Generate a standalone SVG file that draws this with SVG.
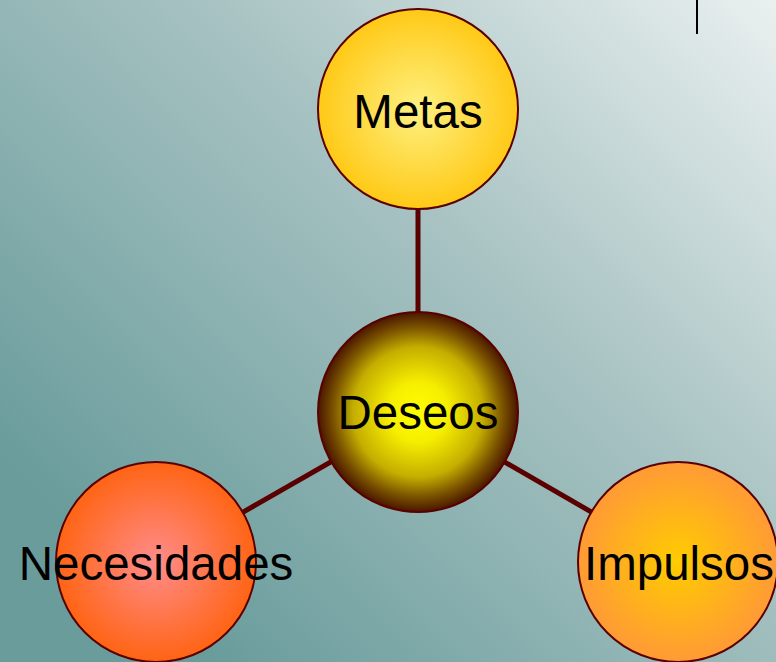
<svg xmlns="http://www.w3.org/2000/svg" width="776" height="662" viewBox="0 0 776 662">
  <defs>
    <linearGradient id="bg" gradientUnits="userSpaceOnUse" x1="776" y1="0" x2="170" y2="620">
      <stop offset="0" stop-color="#eaf0f0"/>
      <stop offset="0.45" stop-color="#a9c3c3"/>
      <stop offset="1" stop-color="#6a9c9c"/>
    </linearGradient>
    <radialGradient id="gMetas" cx="0.5" cy="0.5" r="0.5">
      <stop offset="0" stop-color="#fdf182"/>
      <stop offset="1" stop-color="#ffc916"/>
    </radialGradient>
    <radialGradient id="gDeseos" cx="0.5" cy="0.5" r="0.5">
      <stop offset="0" stop-color="#ffff00"/>
      <stop offset="0.3" stop-color="#f6ee00"/>
      <stop offset="0.65" stop-color="#c4ae00"/>
      <stop offset="0.85" stop-color="#7a5200"/>
      <stop offset="1" stop-color="#4a1600"/>
    </radialGradient>
    <radialGradient id="gNec" cx="0.5" cy="0.5" r="0.5">
      <stop offset="0" stop-color="#ff8c8c"/>
      <stop offset="1" stop-color="#ff6414"/>
    </radialGradient>
    <radialGradient id="gImp" cx="0.5" cy="0.5" r="0.5">
      <stop offset="0" stop-color="#ffcc00"/>
      <stop offset="1" stop-color="#ff9a36"/>
    </radialGradient>
  </defs>
  <style>
    .node { stroke: #5a0000; stroke-width: 2; }
    .conn { stroke: #5a0000; stroke-width: 5; }
    .lbl { font-family: "Liberation Sans", Arial, sans-serif; font-size: 47.5px; fill: #000; text-anchor: middle; }
  </style>
  <rect x="0" y="0" width="776" height="662" fill="url(#bg)"/>
  <line x1="697" y1="0" x2="697" y2="34" stroke="#000" stroke-width="2"/>
  <g id="connectors">
    <line class="conn" x1="418" y1="412" x2="418" y2="109"/>
    <line class="conn" x1="418" y1="412" x2="156" y2="562"/>
    <line class="conn" x1="418" y1="412" x2="678" y2="562"/>
  </g>
  <g id="metas">
    <circle class="node" cx="418" cy="109" r="100" fill="url(#gMetas)"/>
    <text class="lbl" x="418" y="128">Metas</text>
  </g>
  <g id="deseos">
    <circle class="node" cx="418" cy="412" r="100" fill="url(#gDeseos)"/>
    <text class="lbl" x="418" y="429">Deseos</text>
  </g>
  <g id="necesidades">
    <circle class="node" cx="156" cy="562" r="100" fill="url(#gNec)"/>
    <text class="lbl" x="156" y="580">Necesidades</text>
  </g>
  <g id="impulsos">
    <circle class="node" cx="678" cy="562" r="100" fill="url(#gImp)"/>
    <text class="lbl" x="679" y="580">Impulsos</text>
  </g>
</svg>
